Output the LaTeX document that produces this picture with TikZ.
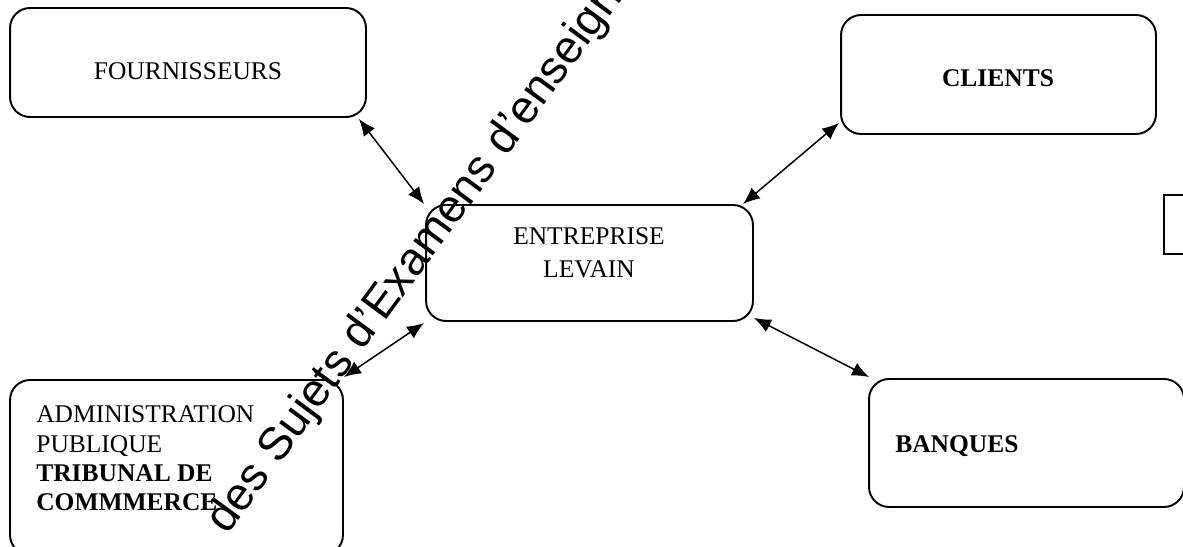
\documentclass[tikz,border=0pt]{standalone}
\usepackage{fontspec}
\setmainfont{Liberation Serif}
\newfontfamily\sansfil{Liberation Sans}
\usetikzlibrary{arrows.meta}

\begin{document}
\begin{tikzpicture}[x=0.02cm, y=-0.02cm,
    boite/.style={draw, line width=1.1pt, rounded corners=0.4cm, inner sep=0pt},
    texte/.style={inner sep=0pt, font=\fontsize{14.5}{16.6}\selectfont},
    lien/.style={{Latex[length=3.4mm,width=2.8mm]}-{Latex[length=3.4mm,width=2.8mm]}, line width=0.85pt}]

        % fixing the page to the size of the scan
        \useasboundingbox (0,0) rectangle (1183,547);
        \clip (0,0) rectangle (1183,547);

        % the partners, drawn as rounded boxes
        \node[boite, minimum width=7.12cm, minimum height=2.18cm] (fourn) at (188,62.5) {};
        \node[boite, minimum width=6.3cm, minimum height=2.38cm] (clients) at (998.5,74.5) {};
        \node[boite, minimum width=6.54cm, minimum height=2.32cm] (entreprise) at (589.5,263) {};
        \node[boite, minimum width=6.66cm, minimum height=3.5cm] (admin) at (176.5,467.5) {};
        \node[boite, minimum width=6.3cm, minimum height=2.56cm] (banques) at (1026.5,443) {};
        % box cut off by the right edge
        \node[draw, line width=1.1pt, inner sep=0pt, minimum width=2cm, minimum height=1.18cm, anchor=north west] (autre) at (1163,194) {};

        % the texts in the boxes
        \node[texte, anchor=base] (tfourn) at (188,80) {FOURNISSEURS};
        \node[texte, anchor=base, font=\fontsize{14.5}{16.6}\selectfont\bfseries] (tclients) at (998,87) {CLIENTS};
        \node[texte, anchor=base] (tent1) at (589,245) {ENTREPRISE};
        \node[texte, anchor=base] (tent2) at (589,277) {LEVAIN};
        \node[texte, anchor=base west] (tadm1) at (36,422) {ADMINISTRATION};
        \node[texte, anchor=base west] (tadm2) at (36,452) {PUBLIQUE};
        \node[texte, anchor=base west] (tadm3) at (36,481) {\bfseries TRIBUNAL DE};
        \node[texte, anchor=base west] (tadm4) at (36,510) {\bfseries COMMMERCE};
        \node[texte, anchor=base west] (tbanques) at (895,452) {\bfseries BANQUES};

        % the exchanges with the firm, in both directions
        \draw[lien] ([shift={(-8,1)}]fourn.south east) -- ([shift={(-1,0)}]entreprise.north west);
        \draw[lien] ([shift={(-1,-12)}]clients.south west) -- ([shift={(-11,0)}]entreprise.north east);
        \draw[lien] ([shift={(0,-2)}]admin.north east) -- ([shift={(-1,1)}]entreprise.south west);
        \draw[lien] ([shift={(0,-4)}]entreprise.south east) -- ([shift={(1,-1)}]banques.north west);

        % watermark running across the page
        \node[inner sep=0pt, rotate=53.6, anchor=base west, font=\sansfil\fontsize{26.3}{30}\selectfont] (marque) at (227,536) {des Sujets d’Examens d’enseignement};
\end{tikzpicture}
\end{document}
